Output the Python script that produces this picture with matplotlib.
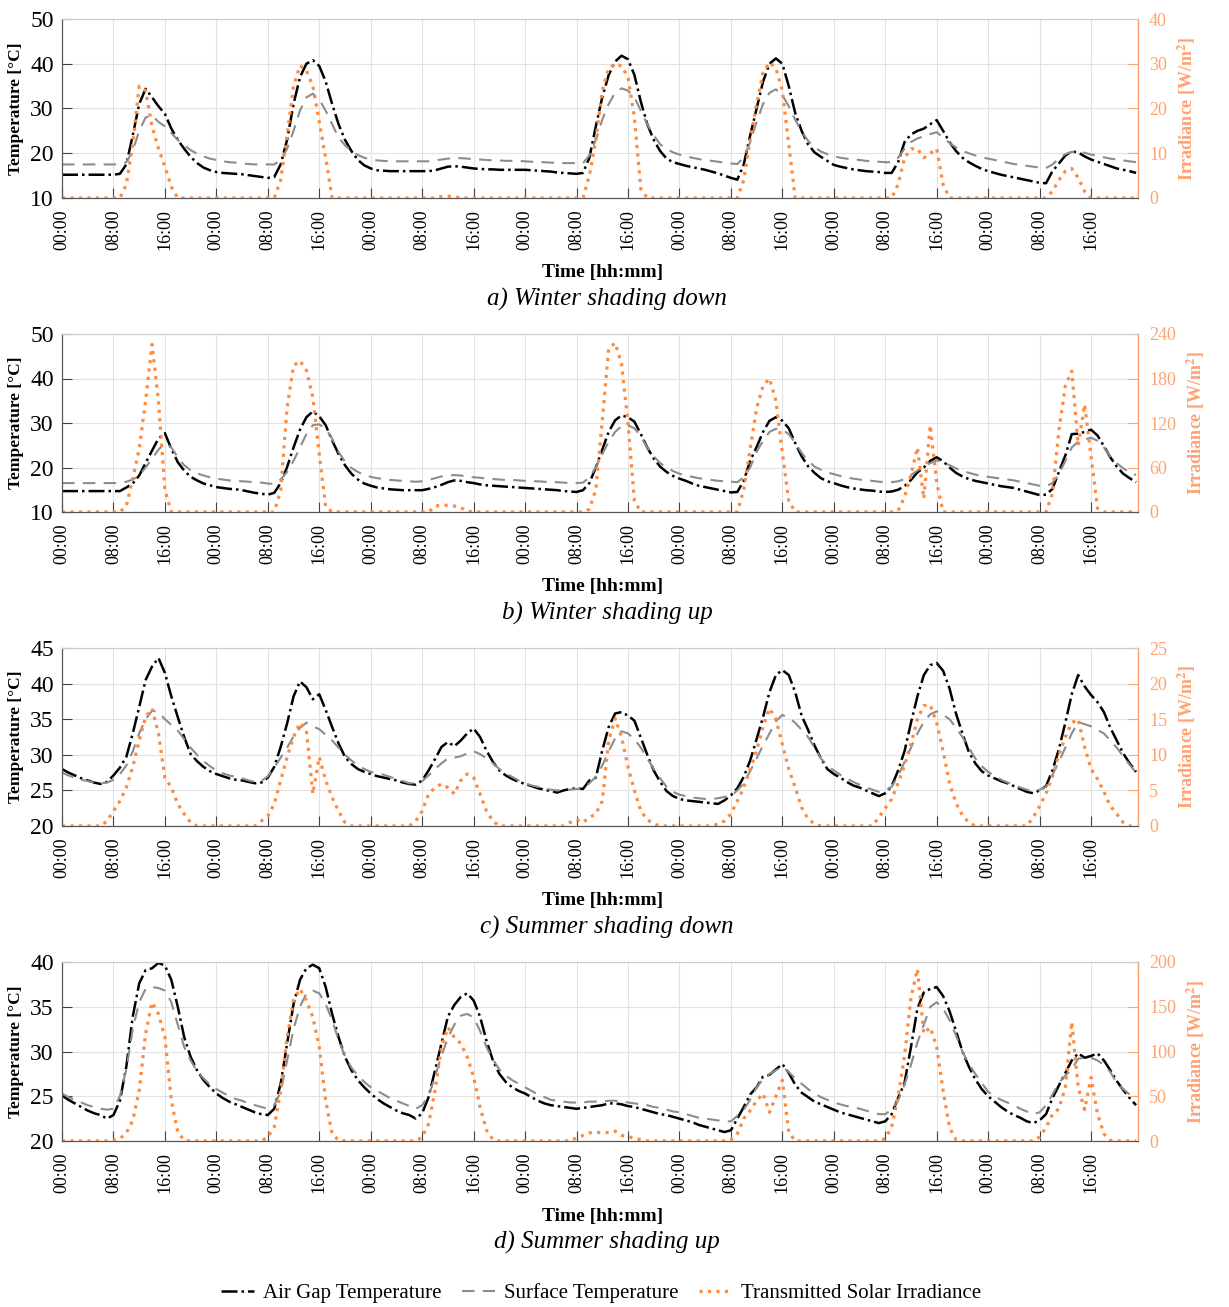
import numpy as np
import matplotlib
matplotlib.use("Agg")
import matplotlib.pyplot as plt

plt.rcParams['font.family'] = ['Liberation Serif', 'DejaVu Serif']
plt.rcParams['mathtext.fontset'] = 'stix'

# Hourly data, 7 days (one row of 24 values per day)
hours = np.arange(168)
tick_hours = np.arange(0, 168, 8)
tick_labels = ['00:00', '08:00', '16:00'] * 7

# a) Winter shading down
a_air = [15.2, 15.2, 15.2, 15.2, 15.2, 15.2, 15.2, 15.2, 15.2, 15.4, 17.5, 24, 31, 34.4, 32.5, 30.5, 28.8, 25.5, 23, 21, 19.2, 17.8, 16.8, 16.2,
         15.8, 15.6, 15.5, 15.4, 15.3, 15.1, 14.9, 14.7, 14.5, 14.7, 17.5, 23, 31, 37, 40, 40.8, 39.5, 36, 31, 26.5, 23, 20.5, 18.5, 17.3,
         16.6, 16.2, 16.1, 16.0, 16.0, 16.0, 16.0, 16.0, 16.0, 16.0, 16.2, 16.6, 17.0, 17.1, 17.0, 16.8, 16.6, 16.5, 16.4, 16.4, 16.3, 16.3, 16.3, 16.3,
         16.3, 16.2, 16.1, 16.0, 15.9, 15.7, 15.6, 15.5, 15.4, 15.6, 19, 26, 32.5, 37.5, 40.5, 41.8, 41, 37.5, 31.5, 26.5, 23, 20.5, 18.8, 18,
         17.6, 17.2, 16.9, 16.6, 16.3, 15.9, 15.5, 15, 14.5, 14.1, 17.5, 24, 30, 36, 40, 41.2, 40, 35, 29, 25, 22, 20.2, 19.2, 18.3,
         17.4, 17, 16.7, 16.4, 16.2, 16, 15.9, 15.8, 15.6, 15.6, 18, 22.5, 24.2, 25, 25.5, 26.5, 27.4, 25, 22.5, 20.5, 19, 18, 17.2, 16.5,
         16, 15.6, 15.2, 14.9, 14.6, 14.3, 14, 13.7, 13.4, 13.3, 16, 17.7, 19.5, 20.4, 20.2, 19.3, 18.6, 18.1, 17.6, 17.1, 16.6, 16.3, 16, 15.6]
a_surf = [17.5, 17.5, 17.5, 17.5, 17.5, 17.5, 17.5, 17.5, 17.5, 17.5, 18, 20.5, 25, 28, 28.5, 27, 26, 24.5, 23, 21.8, 20.7, 19.9, 19.3, 18.8,
          18.5, 18.2, 18, 17.9, 17.7, 17.6, 17.5, 17.5, 17.5, 17.5, 18.5, 21, 25, 29.5, 32.5, 33.3, 32, 29.5, 26.5, 23.5, 21.8, 20.5, 19.6, 19,
          18.6, 18.4, 18.3, 18.2, 18.2, 18.2, 18.2, 18.2, 18.2, 18.2, 18.4, 18.6, 18.8, 18.9, 18.9, 18.8, 18.7, 18.6, 18.5, 18.4, 18.4, 18.3, 18.3, 18.3,
          18.2, 18.1, 18.0, 18.0, 17.9, 17.9, 17.8, 17.8, 17.8, 17.8, 19.5, 23, 27.5, 31, 33.5, 34.5, 34, 32.5, 29.5, 26.5, 24, 22, 21, 20.2,
          19.7, 19.3, 19, 18.7, 18.5, 18.3, 18.1, 17.9, 17.7, 17.6, 19, 22.5, 27, 31, 33.5, 34.3, 33, 30.5, 27.5, 24.8, 22.8, 21.3, 20.4, 19.8,
          19.3, 19, 18.8, 18.6, 18.5, 18.3, 18.2, 18.1, 18, 18, 19, 21, 22.5, 23.3, 23.8, 24.3, 24.7, 23.5, 22.3, 21.3, 20.5, 20, 19.5, 19.1,
          18.8, 18.5, 18.2, 17.9, 17.6, 17.4, 17.2, 17, 16.8, 16.7, 17.5, 18.8, 19.8, 20.3, 20.4, 20.1, 19.7, 19.4, 19.1, 18.8, 18.6, 18.4, 18.2, 18]
a_irr = [0, 0, 0, 0, 0, 0, 0, 0, 0, 0, 3, 12, 25, 24, 16, 11, 7, 2.5, 0, 0, 0, 0, 0, 0,
         0, 0, 0, 0, 0, 0, 0, 0, 0, 0, 4, 14, 25, 29.6, 28.5, 25, 17, 9, 0, 0, 0, 0, 0, 0,
         0, 0, 0, 0, 0, 0, 0, 0, 0, 0, 0, 0.3, 0.4, 0.3, 0, 0, 0, 0, 0, 0, 0, 0, 0, 0,
         0, 0, 0, 0, 0, 0, 0, 0, 0, 0, 5, 13, 24, 29, 30, 29.5, 27, 18, 2, 0, 0, 0, 0, 0,
         0, 0, 0, 0, 0, 0, 0, 0, 0, 0, 4, 13, 21, 28, 30.3, 29, 24, 12, 0, 0, 0, 0, 0, 0,
         0, 0, 0, 0, 0, 0, 0, 0, 0, 0, 3, 9, 11, 11, 9, 10, 11, 3, 0, 0, 0, 0, 0, 0,
         0, 0, 0, 0, 0, 0, 0, 0, 0, 0, 1.5, 4, 6, 6.6, 4.5, 1.5, 0, 0, 0, 0, 0, 0, 0, 0]

# b) Winter shading up
b_air = [14.7, 14.7, 14.7, 14.7, 14.7, 14.7, 14.7, 14.7, 14.7, 14.7, 15.5, 16.4, 18.2, 21, 23.8, 26.5, 27.7, 24.2, 21.2, 19.3, 17.9, 17.1, 16.4, 16,
         15.6, 15.4, 15.2, 15.1, 14.9, 14.6, 14.3, 14.1, 13.9, 14.3, 16.5, 20.1, 24.5, 28.5, 31.3, 32.6, 31.5, 29.5, 26.1, 23, 20.5, 18.6, 17.3, 16.4,
         15.9, 15.5, 15.3, 15.1, 15, 14.9, 14.9, 14.9, 14.9, 15.2, 15.6, 16.1, 16.7, 17.1, 17, 16.7, 16.5, 16.2, 16, 15.9, 15.8, 15.7, 15.6, 15.5,
         15.4, 15.3, 15.2, 15.1, 15, 14.9, 14.7, 14.6, 14.5, 14.9, 16.5, 20, 24, 28, 30.6, 31.7, 31.3, 30.3, 27.5, 24.5, 22, 20.2, 19, 18.1,
         17.5, 17, 16.4, 15.9, 15.6, 15.3, 15, 14.7, 14.4, 14.5, 17, 21.5, 24.6, 28, 30.5, 31.3, 30.5, 28.8, 25.5, 22.5, 20.3, 18.8, 17.6, 16.9,
         16.5, 16, 15.6, 15.3, 15.1, 14.9, 14.8, 14.6, 14.5, 14.6, 15, 15.8, 17.2, 18.9, 20, 21.5, 22.3, 21.4, 20, 18.8, 18, 17.4, 17, 16.7,
         16.4, 16.1, 15.8, 15.6, 15.4, 15, 14.6, 14.2, 13.8, 13.9, 15.2, 19, 22.7, 27.5, 27.6, 28, 28.5, 27.2, 24.8, 22.3, 20.2, 18.6, 17.6, 16.7]
b_surf = [16.5, 16.5, 16.5, 16.5, 16.5, 16.5, 16.5, 16.5, 16.5, 16.5, 16.8, 17.3, 18.2, 20, 22, 24, 25.5, 24.5, 22.3, 20.5, 19.4, 18.7, 18.2, 17.8,
          17.5, 17.3, 17.1, 17, 16.9, 16.8, 16.7, 16.6, 16.4, 16.3, 17.3, 19, 21.5, 24.5, 27.5, 29.5, 29.7, 28.8, 26.5, 23.5, 21.3, 19.9, 19, 18.3,
          17.9, 17.6, 17.4, 17.2, 17.1, 17, 16.9, 16.8, 16.9, 17.2, 17.6, 18, 18.2, 18.3, 18.2, 18, 17.8, 17.7, 17.5, 17.4, 17.3, 17.2, 17.2, 17.1,
          17, 16.9, 16.9, 16.8, 16.7, 16.7, 16.6, 16.5, 16.5, 16.6, 17.8, 20, 23, 25.8, 28, 29.3, 29.5, 28.8, 27, 24.5, 22.5, 21, 20, 19.2,
          18.6, 18.2, 17.9, 17.6, 17.4, 17.2, 17, 16.9, 16.8, 16.7, 17.8, 20, 23.5, 26, 28, 28.7, 28.5, 27.5, 25.5, 23.3, 21.5, 20.2, 19.5, 18.9,
          18.5, 18.1, 17.8, 17.5, 17.3, 17.1, 17, 16.8, 16.7, 16.7, 16.9, 17.4, 18.3, 19.3, 20.2, 21, 21.6, 21.2, 20.5, 19.8, 19.2, 18.8, 18.4, 18.1,
          17.9, 17.7, 17.5, 17.3, 17.1, 16.8, 16.5, 16.2, 15.9, 15.8, 16.5, 18.5, 21.5, 24.5, 25.8, 26.3, 26.7, 26, 24.5, 22.5, 21, 19.8, 19, 18.3]
b_irr = [0, 0, 0, 0, 0, 0, 0, 0, 0, 0, 8, 45, 85, 150, 226, 150, 30, 0, 0, 0, 0, 0, 0, 0,
         0, 0, 0, 0, 0, 0, 0, 0, 0, 0, 29, 141, 197, 204, 191, 155, 78, 7, 0, 0, 0, 0, 0, 0,
         0, 0, 0, 0, 0, 0, 0, 0, 0, 0, 8, 9, 9, 8, 6, 1, 0, 0, 0, 0, 0, 0, 0, 0,
         0, 0, 0, 0, 0, 0, 0, 0, 0, 0, 4, 30, 123, 220, 228, 200, 120, 15, 0, 0, 0, 0, 0, 0,
         0, 0, 0, 0, 0, 0, 0, 0, 0, 0, 30, 85, 140, 170, 180, 150, 80, 15, 0, 0, 0, 0, 0, 0,
         0, 0, 0, 0, 0, 0, 0, 0, 0, 0, 2, 20, 50, 87, 18, 117, 40, 0, 0, 0, 0, 0, 0, 0,
         0, 0, 0, 0, 0, 0, 0, 0, 0, 0, 25, 110, 170, 190, 90, 145, 75, 5, 0, 0, 0, 0, 0, 0]

# c) Summer shading down
c_air = [28, 27.5, 27.1, 26.7, 26.4, 26.1, 25.9, 26.2, 27.1, 28.2, 29.7, 33, 36.7, 40.5, 42.4, 43.6, 41.5, 38.2, 35.3, 32.5, 30.1, 29.1, 28.3, 27.7,
         27.3, 27, 26.7, 26.5, 26.4, 26.2, 26, 26.1, 26.8, 28.3, 31.1, 34.4, 38.2, 40.3, 39.5, 37.8, 38.5, 36.3, 33.9, 31.6, 29.7, 28.7, 28, 27.6,
         27.3, 27, 26.8, 26.6, 26.4, 26.1, 25.9, 25.8, 26.4, 27.8, 29.4, 31.1, 31.8, 31.2, 32, 33, 33.7, 32.5, 30.6, 29, 27.8, 27.1, 26.6, 26.2,
         25.9, 25.6, 25.3, 25.1, 24.9, 24.7, 25, 25.2, 25.3, 25.2, 26.4, 26.8, 30.6, 33.9, 35.8, 36, 35.5, 34.8, 32.4, 30, 27.8, 26.2, 24.9, 24.2,
         23.8, 23.6, 23.5, 23.4, 23.3, 23.2, 23.1, 23.6, 24.3, 25.3, 26.9, 29.2, 32.2, 35.3, 38.8, 41.2, 41.9, 41.2, 38.8, 35.5, 33.5, 31.3, 29.5, 28,
         27.3, 26.8, 26.2, 25.7, 25.4, 25, 24.6, 24.2, 24.6, 25.6, 27.8, 30.5, 34.5, 38.2, 41.2, 42.6, 42.9, 41.8, 39.3, 35.8, 33, 30.4, 28.8, 27.7,
         27.1, 26.7, 26.3, 26, 25.6, 25.2, 24.8, 24.6, 25, 25.6, 27.8, 30.8, 34.5, 38.5, 41.2, 39.6, 38.4, 37.4, 36, 33.8, 32, 30.2, 28.8, 27.6]
c_surf = [27.5, 27.1, 26.8, 26.5, 26.3, 26.1, 26, 26.1, 26.5, 27.3, 28.5, 30.5, 33, 35, 36.2, 36, 35, 34.2, 33.4, 32.2, 31, 30, 29.1, 28.4,
          27.8, 27.4, 27.1, 26.9, 26.7, 26.4, 26.2, 26.3, 27, 28.2, 29.6, 31, 32.6, 33.8, 34.5, 34, 33.6, 32.8, 32, 31, 30, 29.2, 28.5, 28,
          27.6, 27.4, 27.2, 26.9, 26.6, 26.3, 26, 26, 26.3, 27.1, 28, 28.8, 29.5, 29.6, 29.8, 30.2, 30.5, 30.1, 29.5, 28.8, 28, 27.4, 26.9, 26.4,
          26, 25.7, 25.5, 25.3, 25.1, 25, 25, 25.1, 25.2, 25.3, 26, 26.9, 28.5, 30.5, 32.3, 33.3, 33, 32.2, 31, 29.5, 28, 26.7, 25.5, 24.8,
          24.4, 24.2, 24, 23.9, 23.8, 23.8, 23.9, 24.1, 24.2, 25, 26, 27.7, 29.5, 31.3, 33, 34.7, 35.6, 35.2, 34.5, 33.5, 32.5, 31, 29.5, 28.5,
          27.8, 27.2, 26.7, 26.2, 25.8, 25.4, 25.1, 24.8, 25, 25.5, 27, 29, 31, 33, 34.6, 35.7, 36.1, 35.6, 35, 33.8, 32.5, 31, 29.5, 28.4,
          27.6, 27, 26.5, 26.1, 25.8, 25.4, 25.1, 24.8, 25.1, 25.5, 27.2, 29, 31, 33, 34.6, 34.3, 34, 33.5, 33, 32, 31, 29.8, 28.6, 27.5]
c_irr = [0, 0, 0, 0, 0, 0, 0, 0.7, 2.1, 3.5, 5.4, 8.3, 12, 15.3, 16.5, 13, 6.8, 5.4, 3.1, 1.7, 0.5, 0, 0, 0,
         0, 0, 0, 0, 0, 0, 0, 0.7, 1.4, 3.1, 6.4, 9.7, 12.5, 14.5, 13.4, 4.5, 9.7, 6.4, 4, 2.1, 0.5, 0, 0, 0,
         0, 0, 0, 0, 0, 0, 0, 0.7, 2.1, 4.5, 5.4, 5.9, 5.4, 4.5, 6.4, 7.3, 6.8, 4.5, 2.1, 0.7, 0, 0, 0, 0,
         0, 0, 0, 0, 0, 0, 0, 0.5, 0.9, 0.5, 1.2, 1.7, 3.5, 12, 15.1, 12.5, 8.3, 5, 2.1, 0.9, 0.3, 0, 0, 0,
         0, 0, 0, 0, 0, 0, 0.3, 0.7, 1.7, 3.5, 5.4, 8, 10.6, 14, 16.5, 15, 11.5, 8, 5.4, 2.6, 1, 0.3, 0, 0,
         0, 0, 0, 0, 0, 0, 0, 1.2, 2.5, 3.8, 6, 8.5, 11.5, 15, 16.9, 17, 14.5, 10.5, 6, 3.2, 1.5, 0.5, 0, 0,
         0, 0, 0, 0, 0, 0, 0, 1.2, 2.8, 4.5, 7, 10, 12.5, 14.5, 15, 11.1, 8, 6.6, 4.8, 2.8, 1.7, 0.5, 0, 0]

# d) Summer shading up
d_air = [25.1, 24.6, 24.2, 23.8, 23.4, 23.1, 22.9, 22.5, 22.9, 24.5, 28.3, 33.9, 37.6, 39.1, 39.3, 39.9, 39.6, 38, 35, 31.6, 29.4, 27.9, 26.8, 26,
         25.3, 24.8, 24.4, 24.1, 23.8, 23.5, 23.2, 23, 22.9, 23.6, 26.4, 30.9, 35.3, 38, 39.3, 39.7, 39.3, 37.2, 34.2, 31.6, 29.4, 27.9, 26.8, 26,
         25.3, 24.7, 24.2, 23.8, 23.4, 23.1, 22.9, 22.5, 23.1, 24.9, 27.9, 30.9, 33.9, 35.2, 36.1, 36.5, 35.7, 33.9, 31.2, 29, 27.5, 26.6, 26, 25.6,
         25.3, 24.9, 24.5, 24.2, 24, 23.9, 23.8, 23.7, 23.6, 23.7, 23.8, 23.9, 24, 24.2, 24.2, 24.1, 23.9, 23.8, 23.6, 23.4, 23.2, 23, 22.9, 22.7,
         22.5, 22.3, 22.1, 21.8, 21.6, 21.4, 21.2, 21, 21.2, 22.5, 23.8, 25.2, 26, 27.2, 27.4, 28, 28.6, 27.6, 26.3, 25.4, 24.9, 24.4, 24.1, 23.8,
         23.5, 23.2, 23, 22.8, 22.6, 22.4, 22.2, 22, 22.2, 23, 24.8, 26.5, 30.5, 34.8, 36.6, 37, 37.2, 36.2, 34.5, 32.3, 30, 28.3, 26.9, 25.8,
         25, 24.4, 23.8, 23.3, 22.9, 22.6, 22.2, 22, 22.3, 23, 24.8, 26.2, 27.6, 29, 29.8, 29.3, 29.5, 29.8, 29, 27.9, 26.7, 25.7, 24.8, 24]
d_surf = [25.3, 24.9, 24.6, 24.3, 24, 23.8, 23.6, 23.5, 23.6, 25, 28, 32.5, 35.5, 37, 37.2, 37.1, 36.8, 35.5, 33, 30.5, 29, 27.8, 27, 26.3,
          25.8, 25.4, 25, 24.7, 24.5, 24.2, 24, 23.8, 23.6, 24, 25.5, 29, 32.5, 35, 36.5, 36.8, 36.5, 35.3, 33.5, 31.3, 29.5, 28.2, 27.3, 26.6,
          26, 25.6, 25.2, 24.8, 24.5, 24.2, 23.9, 23.6, 24, 25, 27.2, 29.5, 31.5, 33, 34, 34.2, 33.8, 32.3, 30.5, 29.1, 28, 27.3, 26.8, 26.4,
          26, 25.6, 25.2, 24.9, 24.6, 24.5, 24.4, 24.3, 24.3, 24.3, 24.4, 24.4, 24.4, 24.5, 24.5, 24.4, 24.3, 24.2, 24.1, 24, 23.8, 23.7, 23.5, 23.3,
          23.2, 23, 22.8, 22.6, 22.5, 22.4, 22.3, 22.2, 22.2, 22.8, 23.5, 24.6, 26, 26.9, 27.5, 27.9, 28.3, 27.7, 27, 26.4, 25.8, 25.3, 24.9, 24.6,
          24.3, 24.1, 23.9, 23.8, 23.6, 23.4, 23.2, 23, 23, 23.5, 24.5, 26.3, 28.5, 31, 33, 35, 35.5, 34.8, 33.5, 31.8, 30, 28.6, 27.5, 26.5,
          25.5, 25, 24.6, 24.3, 24, 23.6, 23.3, 23, 23.2, 24, 25.2, 26.5, 27.3, 28, 29.2, 29.3, 29.3, 29, 28.5, 27.7, 26.5, 25.8, 25.2, 24.8]
d_irr = [0, 0, 0, 0, 0, 0, 0, 0, 0.7, 2.6, 9, 23, 56.6, 120, 155, 142, 116, 45, 10, 0.7, 0, 0, 0, 0,
         0, 0, 0, 0, 0, 0, 0, 0, 4.5, 15.6, 56.6, 116, 157, 170, 157, 138.5, 105, 45, 8, 0.7, 0, 0, 0, 0,
         0, 0, 0, 0, 0, 0, 0, 0, 4.5, 19, 56.6, 105, 127, 116, 109, 94, 71.5, 38, 12, 1.5, 0, 0, 0, 0,
         0, 0, 0, 0, 0, 0, 0, 0, 3.7, 6.3, 9, 10, 9, 9.5, 11, 6.3, 5, 3, 1.5, 0, 0, 0, 0, 0,
         0, 0, 0, 0, 0, 0, 0, 0, 1.5, 8, 25, 34, 45, 53, 32, 50, 68, 10, 0, 0, 0, 0, 0, 0,
         0, 0, 0, 0, 0, 0, 0, 0, 2.6, 15.6, 50, 95, 160, 192, 120, 127, 105, 56, 15, 1.5, 0, 0, 0, 0,
         0, 0, 0, 0, 0, 0, 0, 0, 4.5, 15, 30, 36, 60, 133, 60, 35, 71, 30, 8, 0.7, 0, 0, 0, 0]

captions = ['a) Winter shading down', 'b) Winter shading up',
            'c) Summer shading down', 'd) Summer shading up']
temp_lims = [(10, 50, 10), (10, 50, 10), (20, 45, 5), (20, 40, 5)]
irr_lims = [(0, 40, 10), (0, 240, 60), (0, 25, 5), (0, 200, 50)]
panels = [(a_air, a_surf, a_irr), (b_air, b_surf, b_irr),
          (c_air, c_surf, c_irr), (d_air, d_surf, d_irr)]

W, H = 1229, 1307
orange = '#FF8A3D'
orange_ax = '#FFA272'
tops = [19, 334, 648, 962]
bottoms = [198, 512, 826, 1141]

fig = plt.figure(figsize=(W / 100, H / 100), dpi=100)

for i in range(4):
    air, surf, irr = panels[i]
    ax = fig.add_axes([62 / W, 1 - bottoms[i] / H, 1076 / W, (bottoms[i] - tops[i]) / H])
    ax2 = ax.twinx()

    l1, = ax.plot(hours, air, color='black', lw=1.8, ls='-.', label='Air Gap Temperature')
    l2, = ax.plot(hours, surf, color='#8c8c8c', lw=1.5, dashes=(6, 4), label='Surface Temperature')
    l3, = ax2.plot(hours, irr, color=orange, lw=2.3, ls=':', label='Transmitted Solar Irradiance')

    t0, t1, ts = temp_lims[i]
    ax.set_ylim(t0, t1)
    ax.set_yticks(np.arange(t0, t1 + 0.1, ts))
    r0, r1, rs = irr_lims[i]
    ax2.set_ylim(r0, r1)
    ax2.set_yticks(np.arange(r0, r1 + 0.1, rs))

    ax.set_xlim(0, 167.3)
    ax.set_xticks(tick_hours)
    ax.set_xticklabels(tick_labels, rotation=90)
    ax.grid(True, color='#e2e2e2', lw=0.8)
    ax.set_axisbelow(True)

    ax.tick_params(axis='both', direction='in', length=7, color='#444444', labelsize=13, pad=8)
    ax.tick_params(axis='y', labelsize=17, pad=6)
    ax2.tick_params(axis='y', direction='in', length=7, color=orange_ax, labelcolor=orange_ax,
                    labelsize=13, pad=8)

    for s in ['left', 'bottom']:
        ax.spines[s].set_color('#555555')
    ax.spines['top'].set_color('#cccccc')
    ax2.spines['top'].set_color('#cccccc')
    ax2.spines['right'].set_color(orange_ax)
    ax2.spines['left'].set_color('#555555')
    ax2.spines['bottom'].set_color('#555555')

    ax.set_ylabel('Temperature [°C]', fontsize=12.5, fontweight='bold', labelpad=4)
    ax2.set_ylabel('Irradiance [W/m$^\\mathbf{2}$]', fontsize=13, fontweight='bold',
                   color=orange_ax, rotation=90, labelpad=6)

    fig.text(603 / W, 1 - (bottoms[i] + 75) / H, 'Time [hh:mm]', ha='center', va='center',
             fontsize=14, fontweight='bold')
    fig.text(607 / W, 1 - (bottoms[i] + 101) / H, captions[i], ha='center', va='center',
             fontsize=18, style='italic')

    if i == 0:
        handles = [l1, l2, l3]

fig.legend(handles=handles, loc='center', bbox_to_anchor=(601 / W, 1 - 1293 / H), ncol=3,
           frameon=False, fontsize=15, handlelength=1.6, columnspacing=1.0, handletextpad=0.4)

fig.savefig('out.png', dpi=100)
